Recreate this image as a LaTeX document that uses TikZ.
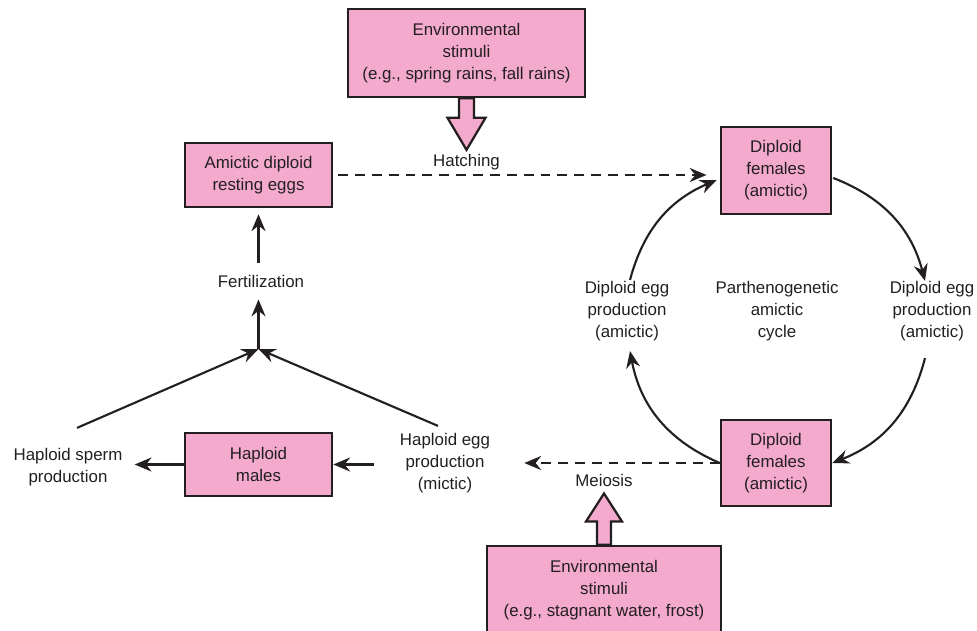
\documentclass[tikz,border=0pt]{standalone}
\usepackage{fontspec}
\setmainfont{Liberation Sans}
\usetikzlibrary{arrows.meta}
\definecolor{rotpink}{RGB}{243,170,204}
\definecolor{ink}{RGB}{35,31,32}
\begin{document}
\begin{tikzpicture}[x=0.025cm, y=-0.025cm,
        every node/.style={font=\fontsize{12}{15.6}\selectfont, text=ink, align=center},
        box/.style={draw=ink, fill=rotpink, line width=1.8pt, inner sep=0pt},
        lbl/.style={inner sep=0pt},
        link/.style={draw=ink, line width=1.5pt, -{Stealth[length=12pt, width=10pt, inset=4pt]}},
        dlink/.style={link, dash pattern=on 7pt off 5pt},
        fat/.style={draw=ink, fill=rotpink, line width=1.6pt, line join=miter}]
    \useasboundingbox (0,0) rectangle (977,630);

    \node[box, minimum width=5.925cm, minimum height=2.2cm] (envtop) at (466.5,53) {Environmental\\stimuli\\(e.g., spring rains, fall rains)};
    \node[lbl] (hatch) at (466.5,162) {Hatching};
    \node[box, minimum width=3.675cm, minimum height=1.6cm] (resting) at (258.5,175) {Amictic diploid\\resting eggs};
    \node[box, minimum width=2.75cm, minimum height=2.175cm] (dft) at (776,170.5) {Diploid\\females\\(amictic)};
    \node[box, minimum width=2.75cm, minimum height=2.15cm] (dfb) at (776,463) {Diploid\\females\\(amictic)};
    \node[lbl] (eggl) at (627,311) {Diploid egg\\production\\(amictic)};
    \node[lbl] (eggr) at (932,311) {Diploid egg\\production\\(amictic)};
    \node[lbl] (cycle) at (777,311) {Parthenogenetic\\amictic\\cycle};
    \node[lbl] (fert) at (261,281) {Fertilization};
    \node[box, minimum width=3.675cm, minimum height=1.575cm] (males) at (258.5,464.5) {Haploid\\males};
    \node[lbl] (sperm) at (68,467) {Haploid sperm\\production};
    \node[lbl] (mictic) at (445,463) {Haploid egg\\production\\(mictic)};
    \node[lbl] (meiosis) at (604,480) {Meiosis};
    \node[box, minimum width=5.85cm, minimum height=2.2cm] (envbot) at (604,590) {Environmental\\stimuli\\(e.g., stagnant water, frost)};
    \coordinate (join) at (258.5,349);
    \coordinate (htip) at ([shift={(0,-4)}]hatch.north);
    \coordinate (mtip) at ([shift={(0,7)}]meiosis.south);

    \draw[fat] ([shift={(-7.5,0)}]envtop.south) -- ([shift={(-7.5,-32)}]htip) -- ([shift={(-19,-32)}]htip) -- (htip)
        -- ([shift={(19,-32)}]htip) -- ([shift={(7.5,-32)}]htip) -- ([shift={(7.5,0)}]envtop.south) -- cycle;
    \draw[fat] ([shift={(-7,0)}]envbot.north) -- ([shift={(-7,28)}]mtip) -- ([shift={(-18,28)}]mtip) -- (mtip)
        -- ([shift={(18,28)}]mtip) -- ([shift={(7,28)}]mtip) -- ([shift={(7,0)}]envbot.north) -- cycle;

    \draw[dlink, shorten <=0.12cm, shorten >=0.33cm] (resting.east) -- (resting.east -| dft.west);
    \draw[dlink, shorten >=0.85cm] (dfb.west) -- (dfb.west -| mictic.east);

    \draw[link] ([shift={(1,7.5)}]dft.east) to[bend left=27] ([shift={(-7,0)}]eggr.north);
    \draw[link] ([shift={(-7,17)}]eggr.south) to[bend left=27] (dfb.east);
    \draw[link] (dfb.west) to[bend left=28] ([shift={(3,10)}]eggl.south);
    \draw[link] ([shift={(3,-1)}]eggl.north) to[bend left=26] ([shift={(-3,9.5)}]dft.west);

    \draw[link, shorten <=0.3cm, shorten >=0.15cm] (resting.south |- fert.north) -- (resting.south);
    \draw[link, shorten >=0.3cm] (join) -- (join |- fert.south);
    \draw[link] ([shift={(9,-20)}]sperm.north) -- (join);
    \draw[link] ([shift={(-7,-7)}]mictic.north) -- (join);
    \draw[link, shorten <=0.65cm] (mictic.west |- males.east) -- (males.east);
    \draw[link, shorten >=0.3cm] (males.west) -- (males.west -| sperm.east);
\end{tikzpicture}
\end{document}
